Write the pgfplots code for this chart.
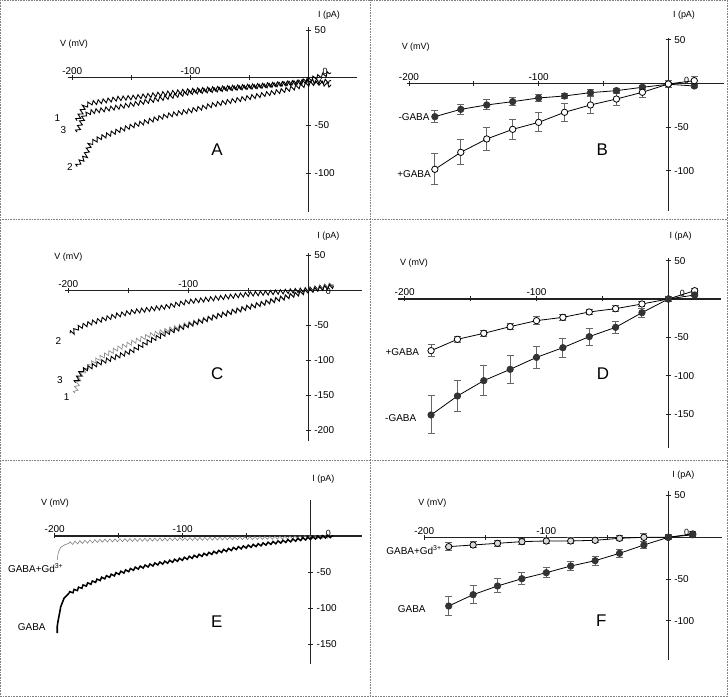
\documentclass[border=0pt]{standalone}
\usepackage{fontspec}
\setmainfont{Liberation Sans}
\usepackage{pgfplots}
\pgfplotsset{compat=1.18}
\usetikzlibrary{decorations.pathmorphing}
\definecolor{axc}{HTML}{222222}
\definecolor{errc}{HTML}{666666}
\definecolor{fillc}{HTML}{333333}
\pgfplotsset{
 panel/.style={
  axis lines=middle,
  axis line style={-, line width=1.2bp, axc},
  every inner x axis line/.append style={-},
  every inner y axis line/.append style={-},
  anchor=origin, clip=false, enlargelimits=false,
  xtick={-200,-150,-100,-50}, xticklabels={-200,,-100,},
  major tick length=5bp,
  tick style={line width=0.8bp, axc},
  xticklabel style={anchor=south, yshift=2bp, font=\fontsize{10}{11}\selectfont},
  yticklabel style={anchor=west, xshift=5bp, font=\fontsize{10}{11}\selectfont},
 },
 trace/.style={black, line width=0.9bp, decorate, decoration={zigzag, segment length=5bp, amplitude=2.2bp}},
 errs/.style={error bars/.cd, y dir=both, y explicit, error bar style={line width=1bp, errc}, error mark options={rotate=90, mark size=3.5bp, line width=1bp, errc}},
 filled/.style={black, line width=0.8bp, mark=*, mark size=3.2bp, mark options={fill=fillc, draw=fillc}},
 open/.style={black, line width=0.8bp, mark=*, mark size=3.2bp, mark options={fill=white, draw=black, line width=0.8bp}},
}
\newcommand{\lab}[3]{\node[font=\fontsize{10}{11}\selectfont] at (#1,697-#2) {#3};}
\newcommand{\sml}[3]{\node[font=\fontsize{9}{10}\selectfont] at (#1,697-#2) {#3};}
\newcommand{\letter}[3]{\node[font=\fontsize{17}{19}\selectfont] at (#1,697-#2) {#3};}
\begin{document}
\begin{tikzpicture}[x=1bp,y=1bp]
\useasboundingbox (0,0) rectangle (728,697);
% frames
\draw[densely dotted, gray, line width=0.6bp] (0.5,0.5) rectangle (727.5,696.5);
\draw[densely dotted, gray, line width=0.6bp] (370.5,0) -- (370.5,697);
\draw[densely dotted, gray, line width=0.6bp] (0,697-219) -- (728,697-219);
\draw[densely dotted, gray, line width=0.6bp] (0,697-460) -- (728,697-460);

% ---------- A ----------
\begin{axis}[panel, at={(308.7bp,619.3bp)}, x=1.182bp, y=0.955bp,
  xmin=-203.4, xmax=40.6, ymin=-141, ymax=53, ytick={50,-50,-100}, yticklabels={50,-50,-100}]
\addplot[trace] coordinates {(-196,-45) (-193,-38) (-190,-30) (-185,-27) (-176,-25) (-162,-22) (-148,-20.6) (-120,-16.4) (-100,-13.6) (-70,-10.7) (-40,-8.2) (-7,-4.7) (0,-3) (19,-8)};
\addplot[trace] coordinates {(-196,-57) (-193,-48) (-190,-40) (-185,-36) (-176,-34) (-162,-31) (-148,-27.6) (-120,-20.6) (-100,-15.4) (-70,-11.7) (-40,-9) (-7,-4.7) (0,-2) (19,5)};
\addplot[trace] coordinates {(-195.9,-93) (-194.5,-89.6) (-189,-82.7) (-184.8,-68.7) (-176.5,-63) (-160,-55) (-148,-50) (-120,-39.7) (-100,-34.5) (-78,-27.6) (-50,-20.6) (-22,-13.6) (0,-6.6) (19,-3)};
\end{axis}
\sml{74}{44}{V (mV)}
\sml{329}{15}{I (pA)}
\sml{325}{71.7}{0}
\lab{57.3}{118.3}{1}
\lab{63.3}{130}{3}
\lab{70}{166.7}{2}
\letter{217}{150}{A}

% ---------- B ----------
\begin{axis}[panel, at={(668.3bp,613.7bp)}, x=1.297bp, y=0.874bp,
  xmin=-201.3, xmax=43, ymin=-145.8, ymax=51.5, ytick={50,-50,-100}, yticklabels={50,-50,-100}]
\addplot[filled, errs] table[x=x,y=y,y error=e] {
x y e
-180 -38.2 6.5
-160 -29.8 6
-140 -24.8 5.7
-120 -21 4.8
-100 -16.8 3.8
-80 -14.5 3.2
-60 -10.7 3.8
-40 -8.4 3
-20 -4.6 2
0 -1.1 2
20 -3.1 2
};
\addplot[open, errs] table[x=x,y=y,y error=e] {
x y e
-180 -98.4 17.5
-160 -79 14.3
-140 -63.7 12.8
-120 -52.7 11.8
-100 -44.7 10.7
-80 -33.2 10
-60 -24.8 9.9
-40 -18 7.6
-20 -10.3 5.7
0 -0.8 3.8
20 3 4.8
};
\end{axis}
\sml{415.7}{46.7}{V (mV)}
\sml{684}{15}{I (pA)}
\sml{686.7}{80}{0}
\lab{414}{117}{-GABA}
\lab{414}{174}{+GABA}
\letter{602.3}{149.3}{B}

% ---------- C ----------
\begin{axis}[panel, at={(308.3bp,406.7bp)}, x=1.2bp, y=0.70bp,
  xmin=-202.8, xmax=45, ymin=-216, ymax=52.9, ytick={50,-50,-100,-150,-200}, yticklabels={50,-50,-100,-150,-200}]
\addplot[trace] coordinates {(-198.6,-61.4) (-196,-60) (-193,-55) (-190,-52) (-180,-46) (-173,-42.4) (-160,-36) (-145.8,-30.5) (-130,-26.5) (-118,-23.4) (-100,-16.3) (-77,-11.4) (-48.6,-5.3) (-20.8,-2) (0,1) (20.8,7.6)};
\addplot[trace, black!45, line width=0.7bp] coordinates {(-194.4,-147) (-192,-132) (-189,-120) (-182,-106) (-174,-97) (-160,-84) (-146,-74) (-132,-64) (-118,-57) (-100,-48) (-76,-36) (-49,-23) (-21,-10) (0,0) (21,8)};
\addplot[trace] coordinates {(-194,-132) (-191,-122) (-189,-115) (-182,-110) (-174,-104) (-160,-95) (-146,-86) (-132,-72) (-118,-61) (-100,-50) (-76,-37) (-49,-24) (-21,-11) (0,-1) (21,6)};
\end{axis}
\sml{68.3}{256.7}{V (mV)}
\sml{328.3}{236}{I (pA)}
\sml{328.3}{291.7}{0}
\lab{58.3}{341}{2}
\lab{60}{380}{3}
\lab{66.7}{396.7}{1}
\letter{217.3}{374}{C}

% ---------- D ----------
\begin{axis}[panel, at={(668.3bp,398bp)}, x=1.318bp, y=0.768bp,
  xmin=-204.8, xmax=39.7, ymin=-194.4, ymax=53, ytick={50,-50,-100,-150}, yticklabels={50,-50,-100,-150}]
\addplot[open, errs] table[x=x,y=y,y error=e] {
x y e
-180 -67.3 8
-160 -52.5 4.3
-140 -44.7 3.5
-120 -36 3.5
-100 -28.2 5
-80 -23.9 4.3
-60 -16.9 3.7
-40 -12.6 3.9
-20 -6.5 3.7
0 0 3
20 10.8 3
};
\addplot[filled, errs] table[x=x,y=y,y error=e] {
x y e
-180 -151 24.7
-160 -126.3 20.6
-140 -106.3 19.7
-120 -91.6 18
-100 -76 14.3
-80 -63.4 12.6
-60 -49 11
-40 -36.9 8.2
-20 -17.8 5.9
0 0 3
20 5.2 2
};
\end{axis}
\sml{414}{262.7}{V (mV)}
\sml{680.7}{236}{I (pA)}
\sml{682.3}{293.3}{0}
\lab{402.3}{351.7}{+GABA}
\lab{400.7}{418.3}{-GABA}
\letter{603}{374}{D}

% ---------- E ----------
\begin{axis}[panel, at={(310.7bp,161bp)}, x=1.28bp, y=0.722bp,
  xmin=-200, xmax=39.8, ymin=-177, ymax=49.9, ytick={50,-50,-100,-150}, yticklabels={50,-50,-100,-150}]
\addplot[black!50, line width=0.6bp] coordinates {(-198,-33) (-197.5,-26) (-197,-22) (-195.3,-15.7) (-192,-12) (-189,-10.2)};
\addplot[trace, black!50, line width=0.6bp, decoration={zigzag, segment length=5bp, amplitude=1.5bp}] coordinates {(-189,-10.2) (-180,-8.5) (-162.8,-6.5) (-140,-5.5) (-110.7,-4.6) (-80,-3.8) (-58.6,-3.2) (-30,-2.5) (-8.3,-1.8) (0,-1.5) (17.7,-0.9)};
\addplot[black, line width=1.6bp] coordinates {(-198,-134.7) (-198,-125) (-197.3,-117) (-196,-105) (-195.3,-98) (-192.7,-86.3) (-188.8,-79.4)};
\addplot[trace, line width=1.5bp, decoration={zigzag, segment length=5bp, amplitude=1.3bp}] coordinates {(-188.8,-79.4) (-175.8,-67.9) (-162.8,-58.6) (-150,-51.5) (-136.7,-44.8) (-120,-38.5) (-110.7,-35.6) (-84.7,-26.3) (-58.6,-17.1) (-32.6,-10.2) (-6.5,-4.2) (0,-3) (17.7,0)};
\end{axis}
\sml{55}{503.3}{V (mV)}
\sml{323.3}{479}{I (pA)}
\sml{328.3}{533.3}{0}
\lab{35.7}{568.3}{GABA+Gd\textsuperscript{3+}}
\lab{31.7}{626.7}{GABA}
\letter{216.7}{621.7}{E}

% ---------- F ----------
\begin{axis}[panel, at={(668.3bp,159.7bp)}, x=1.22bp, y=0.835bp,
  xmin=-200.6, xmax=44.3, ymin=-147, ymax=55.8, ytick={50,-50,-100}, yticklabels={50,-50,-100}]
\addplot[open, mark options={fill=black!15, draw=black}, errs] table[x=x,y=y,y error=e] {
x y e
-180 -11.2 4.8
-160 -9.2 3.6
-140 -7.2 3.6
-120 -5.2 3.6
-100 -4.4 3.6
-80 -4.4 3.6
-60 -3.6 3
-40 -1.2 3
-20 0 4.6
0 0 3
20 4 3
};
\addplot[filled, errs] table[x=x,y=y,y error=e] {
x y e
-180 -82.3 11.4
-160 -68.7 10.8
-140 -58.3 8.4
-120 -49.6 7.4
-100 -42.4 6
-80 -34.4 5.6
-60 -28 5.4
-40 -19.2 4.4
-20 -9.2 4.4
0 0 2
20 3 2
};
\end{axis}
\sml{432.3}{503.3}{V (mV)}
\sml{683.3}{475}{I (pA)}
\sml{686.7}{532.3}{0}
\lab{414}{550}{GABA+Gd\textsuperscript{3+}}
\lab{411.7}{609.3}{GABA}
\letter{601.3}{620.7}{F}
\end{tikzpicture}
\end{document}
